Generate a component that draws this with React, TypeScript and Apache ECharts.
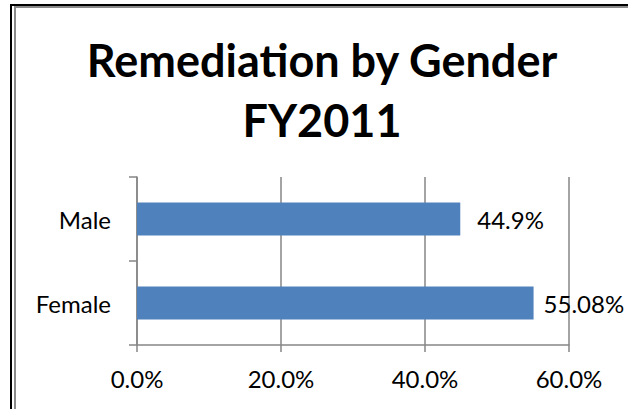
import React, { useEffect, useRef } from "react";
import * as echarts from "echarts";

const categories = ["Male", "Female"];
const values = [44.9, 55.08];
const valueLabels = ["44.9%", "55.08%"];
const labelGaps = [17, 10];
const xTicks = [0, 20, 40, 60];

const FONT = "Lato, 'Open Sans', sans-serif";

export default function App() {
  const ref = useRef<HTMLDivElement>(null);
  useEffect(() => {
    document.body.style.margin = "0";
    const chart = echarts.init(ref.current!, null, { renderer: "svg" });
    chart.setOption({
      animation: false,
      backgroundColor: "#ffffff",
      textStyle: { fontFamily: FONT },
      graphic: [
        { type: "line", shape: { x1: 10, y1: 5, x2: 628, y2: 5 }, style: { stroke: "#000", lineWidth: 2 } },
        { type: "line", shape: { x1: 11, y1: 4, x2: 11, y2: 409 }, style: { stroke: "#000", lineWidth: 2 } },
        { type: "line", shape: { x1: 15, y1: 7, x2: 628, y2: 7 }, style: { stroke: "#8a8a8a", lineWidth: 2 } },
        { type: "line", shape: { x1: 15, y1: 6, x2: 15, y2: 409 }, style: { stroke: "#8a8a8a", lineWidth: 2 } },
        {
          type: "text",
          x: 322,
          y: 60,
          style: {
            text: "Remediation by Gender",
            fontFamily: FONT,
            fontWeight: "bold",
            fontSize: 45,
            fill: "#000",
            align: "center",
            verticalAlign: "middle",
          },
        },
        {
          type: "text",
          x: 322,
          y: 120,
          style: {
            text: "FY2011",
            fontFamily: FONT,
            fontWeight: "bold",
            fontSize: 45,
            fill: "#000",
            align: "center",
            verticalAlign: "middle",
          },
        },
      ],
      grid: { left: 137, right: 59, top: 177, bottom: 64, containLabel: false },
      xAxis: {
        type: "value",
        min: xTicks[0],
        max: xTicks[xTicks.length - 1],
        interval: 20,
        axisLine: { show: true, lineStyle: { color: "#868686", width: 1.5 } },
        axisTick: { show: true, length: 7, lineStyle: { color: "#868686", width: 1.5 } },
        splitLine: { show: true, lineStyle: { color: "#868686", width: 1.5 } },
        axisLabel: {
          margin: 21,
          fontSize: 24,
          color: "#000",
          fontFamily: FONT,
          formatter: (v: number) => v.toFixed(1) + "%",
        },
      },
      yAxis: {
        type: "category",
        data: categories,
        inverse: true,
        axisLine: { show: true, lineStyle: { color: "#868686", width: 1.5 } },
        axisTick: { show: true, length: 8, lineStyle: { color: "#868686", width: 1.5 } },
        axisLabel: { margin: 26, fontSize: 24, color: "#000", fontFamily: FONT },
        splitLine: { show: false },
      },
      series: [
        {
          type: "bar",
          barWidth: 33,
          itemStyle: { color: "#4f81bd" },
          data: values.map((v, i) => ({
            value: v,
            label: {
              show: true,
              position: "right",
              distance: labelGaps[i],
              formatter: valueLabels[i],
              fontSize: 24,
              color: "#000",
              fontFamily: FONT,
            },
          })),
        },
      ],
    });
    return () => chart.dispose();
  }, []);
  return <div ref={ref} style={{ width: 628, height: 409, position: "absolute", left: 0, top: 0 }} />;
}
